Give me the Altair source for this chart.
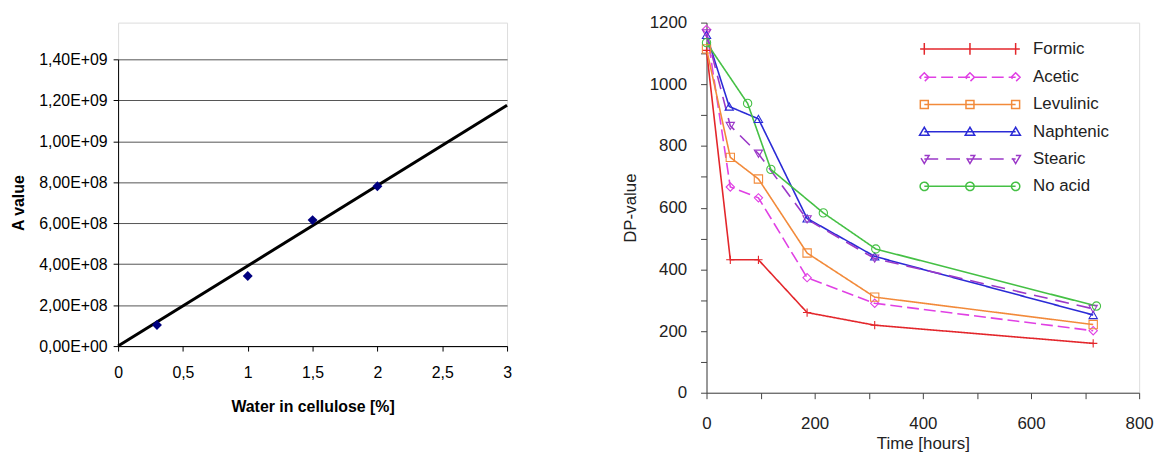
import altair as alt
import pandas as pd

# ---------------- left panel data ----------------
water = [0.3, 1.0, 1.5, 2.0]
a_value = [1.03e8, 3.42e8, 6.15e8, 7.80e8]
trend_water = [0.0, 3.0]
trend_a = [0.0, 1.176e9]
a_ticks = [0, 2e8, 4e8, 6e8, 8e8, 1.0e9, 1.2e9, 1.4e9]
water_ticks = [0, 0.5, 1, 1.5, 2, 2.5, 3]

# ---------------- right panel data ----------------
series = ["Formic", "Acetic", "Levulinic", "Naphtenic", "Stearic", "No acid"]
formic_hours = [0, 44, 96, 186, 311, 715]
formic_dp = [1110, 431, 431, 260, 219, 160]
acetic_hours = [0, 44, 96, 186, 311, 715]
acetic_dp = [1178, 667, 632, 373, 290, 201]
levulinic_hours = [0, 44, 96, 186, 311, 715]
levulinic_dp = [1115, 763, 693, 453, 310, 221]
naphtenic_hours = [0, 42, 96, 186, 311, 715]
naphtenic_dp = [1160, 928, 888, 565, 442, 252]
stearic_hours = [0, 44, 96, 186, 311, 715]
stearic_dp = [1165, 865, 775, 562, 435, 272]
noacid_hours = [0, 76, 119, 216, 313, 721]
noacid_dp = [1135, 938, 724, 583, 466, 281]
hour_ticks = list(range(0, 801, 100))
dp_ticks = list(range(0, 1201, 100))

colors = ["#e3262b", "#e040e4", "#f28a3a", "#2b2bd6", "#9b38c8", "#45c045"]
dashes = [[1, 0], [12, 5], [1, 0], [1, 0], [14, 8], [1, 0]]
marker_shapes = ["M-1,0H1M0,-1V1", "diamond", "square", "triangle-up",
                 "triangle-down", "circle"]

FONT = "Liberation Sans"

# ---------------- left panel ----------------
df_a = pd.DataFrame({"water": water, "a": a_value})
df_trend = pd.DataFrame({"water": trend_water, "a": trend_a})

y_label_expr = (
    "datum.value == 0 ? '0,00E+00' : "
    "replace(format(datum.value / pow(10, floor(log(datum.value) / LN10 + 1e-9)), '.2f'), '.', ',')"
    " + 'E+' + (floor(log(datum.value) / LN10 + 1e-9) < 10 ? '0' : '')"
    " + floor(log(datum.value) / LN10 + 1e-9)"
)

left_h = 326
left_top = 37
xs_left = alt.X(
    "water:Q",
    scale=alt.Scale(domain=[0, 3], nice=False),
    axis=alt.Axis(values=water_ticks, labelExpr="replace(format(datum.value, '~g'), '.', ',')",
                  title="Water in cellulose [%]", grid=False, tickSize=5,
                  domainColor="black", tickColor="black", labelColor="black",
                  labelFontSize=16, labelPadding=14, labelFlush=False, labelOverlap=False,
                  titleFontSize=16, titleFontWeight="bold", titleColor="black",
                  titlePadding=18, labelFont=FONT, titleFont=FONT),
)
ys_left = alt.Y(
    "a:Q",
    scale=alt.Scale(domain=[0, 1.4e9], nice=False, range=[left_h, left_top]),
    axis=alt.Axis(values=a_ticks, labelExpr=y_label_expr, title="A value",
                  grid=True, gridColor="#555555", gridWidth=1, tickSize=5,
                  domainColor="black", tickColor="black", labelColor="black",
                  labelFontSize=16, labelPadding=6, labelFlush=False, labelOverlap=False,
                  titleFontSize=16, titleFontWeight="bold", titleColor="black",
                  titlePadding=12, labelFont=FONT, titleFont=FONT),
)

left_points = alt.Chart(df_a).mark_point(
    shape="diamond", filled=True, color="#000080", size=100, opacity=1
).encode(x=xs_left, y=ys_left)
left_trend = alt.Chart(df_trend).mark_line(color="black", strokeWidth=3).encode(
    x=xs_left, y=ys_left
)
left = alt.layer(left_trend, left_points).properties(width=392, height=left_h)

# ---------------- right panel ----------------
rows = []
for name, hs, vs in [
    ("Formic", formic_hours, formic_dp),
    ("Acetic", acetic_hours, acetic_dp),
    ("Levulinic", levulinic_hours, levulinic_dp),
    ("Naphtenic", naphtenic_hours, naphtenic_dp),
    ("Stearic", stearic_hours, stearic_dp),
    ("No acid", noacid_hours, noacid_dp),
]:
    for h, v in zip(hs, vs):
        rows.append({"series": name, "hours": h, "dp": v})
df_r = pd.DataFrame(rows)

tick_expr = "datum.value % 200 == 0 ? format(datum.value, 'd') : ''"
xs_right = alt.X(
    "hours:Q",
    scale=alt.Scale(domain=[0, 800], nice=False),
    axis=alt.Axis(values=hour_ticks, labelExpr=tick_expr, title="Time [hours]",
                  grid=False, tickSize=6, domainColor="#444444", tickColor="#444444",
                  labelColor="#222222", labelFontSize=17, labelPadding=17,
                  labelFlush=False, labelOverlap=False, titleFontSize=17,
                  titleFontWeight="normal", titleColor="#222222", titlePadding=4,
                  labelFont=FONT, titleFont=FONT),
)
ys_right = alt.Y(
    "dp:Q",
    scale=alt.Scale(domain=[0, 1200], nice=False),
    axis=alt.Axis(values=dp_ticks, labelExpr=tick_expr, title="DP-value",
                  grid=False, tickSize=6, domainColor="#444444", tickColor="#444444",
                  labelColor="#222222", labelFontSize=17, labelPadding=14,
                  labelFlush=False, labelOverlap=False, titleFontSize=17,
                  titleFontWeight="normal", titleColor="#222222", titlePadding=10,
                  labelFont=FONT, titleFont=FONT),
)
color_scale = alt.Scale(domain=series, range=colors)
dash_scale = alt.Scale(domain=series, range=dashes)

legend_def = alt.Legend(
    orient="none", legendX=257, legendY=18, title=None,
    labelFontSize=17, labelColor="#222222", labelFont=FONT,
    symbolSize=144, symbolStrokeWidth=1.5, symbolOpacity=1,
    labelOffset=55, rowPadding=9.5, padding=0)


def color_enc():
    return alt.Color("series:N", scale=color_scale, legend=legend_def)


lines = alt.Chart(df_r).mark_line(strokeWidth=1.6).encode(
    x=xs_right, y=ys_right,
    color=color_enc(),
    strokeDash=alt.StrokeDash("series:N", scale=dash_scale),
    order="hours:Q",
)

point_layers = []
for name, shp in zip(series, marker_shapes):
    point_layers.append(
        alt.Chart(df_r).transform_filter(alt.datum.series == name).mark_point(
            shape=shp, filled=False, size=70, strokeWidth=1.1, opacity=1
        ).encode(
            x=xs_right, y=ys_right,
            color=color_enc(),
        )
    )


# legend symbols: line with three markers (path units: 1 unit = 6 px)
def marker_path(kind, cx):
    if kind == "plus":
        return f"M{cx-0.7},0H{cx+0.7}M{cx},-1V1"
    if kind == "diamond":
        return f"M{cx},-0.75L{cx+0.75},0L{cx},0.75L{cx-0.75},0Z"
    if kind == "square":
        return f"M{cx-0.67},-0.67H{cx+0.67}V0.67H{cx-0.67}Z"
    if kind == "up":
        return f"M{cx},-0.75L{cx+0.8},0.6H{cx-0.8}Z"
    if kind == "down":
        return f"M{cx},0.75L{cx+0.8},-0.6H{cx-0.8}Z"
    return f"M{cx+0.7},0A0.7,0.7,0,1,1,{cx-0.7},0A0.7,0.7,0,1,1,{cx+0.7},0Z"


half = 7.67
legend_paths = []
for kind in ["plus", "diamond", "square", "up", "down", "circle"]:
    p = f"M{-half},0H{half}"
    for cx in (-half, 0, half):
        p += marker_path(kind, cx)
    legend_paths.append(p)

legend_layer = alt.Chart(df_r).transform_filter("false").mark_point(
    filled=False, strokeWidth=1.5, opacity=1
).encode(
    x=xs_right, y=ys_right,
    color=color_enc(),
    shape=alt.Shape("series:N", scale=alt.Scale(domain=series, range=legend_paths)),
    strokeDash=alt.StrokeDash("series:N", scale=dash_scale),
)

right = alt.layer(lines, *point_layers, legend_layer).properties(width=436, height=373)

chart = alt.hconcat(left, right, spacing=107).resolve_legend(
    color="independent", shape="independent", strokeDash="independent"
).properties(
    padding={"left": 10, "top": 11, "right": 5, "bottom": 5}
).configure_view(stroke=None).configure(font=FONT)

chart.save("out.html", embed_options={"renderer": "svg", "actions": False})
